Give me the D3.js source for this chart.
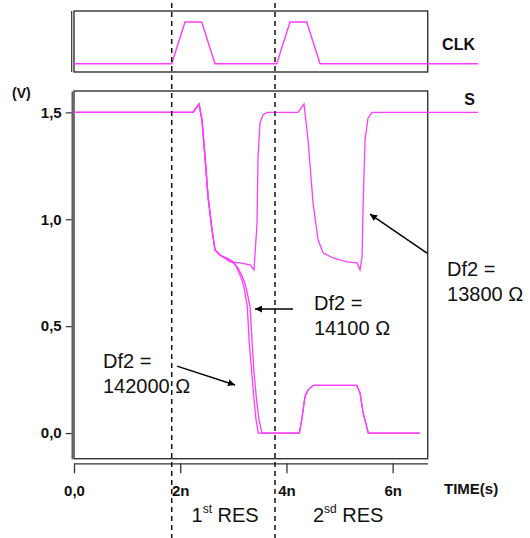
<!DOCTYPE html>
<html>
<head>
<meta charset="utf-8">
<script src="https://cdn.jsdelivr.net/npm/d3@7"></script>
<style>
    body { margin: 0; background: #fff; }
    svg { display: block; }
    .tick text, .lbl { font-family: "Liberation Sans", Arial, sans-serif; font-weight: bold; fill: #111; }
    .note { font-family: "Liberation Sans", Arial, sans-serif; font-size: 20px; fill: #111; }
</style>
</head>
<body>
<script>
// clock trace (ns, level 0/1)
const clkTime = [0, 1.84, 2.09, 2.405, 2.655, 3.817, 4.068, 4.382, 4.633, 7.608]
const clkLevel = [0, 0, 1, 1, 0, 0, 1, 1, 0, 0]

// S node, Df2 = 13800 ohm (recovers to 1.5 V)
const sTimeA = [0, 2.24, 2.354, 2.41, 2.467, 2.524, 2.599, 2.655, 2.75, 2.938, 3.126, 3.315, 3.39, 3.446, 3.465, 3.503, 3.559, 3.635,
    4.218, 4.331, 4.407, 4.501, 4.595, 4.689, 4.878, 5.141, 5.33, 5.386, 5.424, 5.443, 5.48, 5.537, 5.612, 7.608]
const sVoltA = [1.5, 1.5, 1.539, 1.465, 1.292, 1.105, 0.95, 0.857, 0.833, 0.801, 0.796, 0.787, 0.763, 0.983, 1.292, 1.451, 1.488, 1.5,
    1.5, 1.539, 1.371, 1.077, 0.904, 0.843, 0.819, 0.801, 0.796, 0.763, 0.824, 1.058, 1.371, 1.474, 1.5, 1.5]

// S node, Df2 = 14100 ohm
const sTimeB = [0, 2.24, 2.354, 2.41, 2.467, 2.524, 2.599, 2.655, 2.75, 2.938, 3.051, 3.107, 3.164, 3.211, 3.264, 3.296, 3.347, 3.39, 3.428, 3.471,
    4.243, 4.288, 4.35, 4.407, 4.507, 5.324, 5.386, 5.443, 5.542, 6.516]
const sVoltB = [1.5, 1.5, 1.539, 1.465, 1.292, 1.105, 0.95, 0.857, 0.833, 0.81, 0.782, 0.75, 0.717, 0.67, 0.59, 0.436, 0.282, 0.156, 0.062, 0,
    0, 0.062, 0.171, 0.202, 0.223, 0.223, 0.188, 0.095, 0, 0]

// S node, Df2 = 142000 ohm
const sTimeC = [0, 2.24, 2.354, 2.41, 2.467, 2.524, 2.599, 2.655, 2.75, 2.976, 3.088, 3.154, 3.211, 3.258, 3.315, 3.352, 3.39, 3.437, 3.484, 3.54,
    4.243, 4.288, 4.35, 4.407, 4.507, 5.324, 5.386, 5.443, 5.542, 6.516]
const sVoltC = [1.5, 1.5, 1.539, 1.465, 1.292, 1.105, 0.95, 0.857, 0.833, 0.805, 0.773, 0.74, 0.707, 0.661, 0.59, 0.436, 0.282, 0.156, 0.062, 0,
    0, 0.062, 0.171, 0.202, 0.223, 0.223, 0.188, 0.095, 0, 0]

const yTicks = [0, 0.5, 1.0, 1.5]
const yTickLabels = ["0,0", "0,5", "1,0", "1,5"]
const xTicks = [0, 2, 4, 6]
const xTickLabels = ["0,0", "2n", "4n", "6n"]

// reset boundaries (ns)
const resTimes = [1.84, 3.785]

// annotations: text anchor (ns, V), arrow from -> to (ns, V)
const noteLines = [["Df2 =", "13800 \u03A9"], ["Df2 =", "14100 \u03A9"], ["Df2 =", "142000 \u03A9"]]
const noteT = [7.024, 4.519, 0.546]
const noteV = [0.735, 0.575, 0.304]
const arrowFrom = [[6.647, 0.842], [4.124, 0.58], [1.94, 0.313]]
const arrowTo = [[5.574, 1.024], [3.408, 0.58], [3.032, 0.225]]

const W = 530
const H = 538
const magenta = "#ff3cff"
const ink = "#333"

const svg = d3.select("body").append("svg")
    .attr("width", W)
    .attr("height", H)

svg.append("defs").append("marker")
    .attr("id", "arr")
    .attr("viewBox", "0 0 10 10")
    .attr("refX", 10).attr("refY", 5)
    .attr("markerWidth", 7).attr("markerHeight", 7)
    .attr("markerUnits", "userSpaceOnUse")
    .attr("orient", "auto")
    .append("path").attr("d", "M0,0 L10,5 L0,10 z").attr("fill", "#000")

const x = d3.scaleLinear().domain([0, 6.66]).range([74, 427.7])
const y = d3.scaleLinear().domain([-0.12, 1.6]).range([458.7, 91])
const yClk = d3.scaleLinear().domain([0, 1]).range([63.7, 22])

// clock panel box
svg.append("rect")
    .attr("x", x(0)).attr("y", 11)
    .attr("width", x(6.66) - x(0)).attr("height", 61)
    .attr("fill", "none").attr("stroke", ink).attr("stroke-width", 1.4)
svg.append("line")
    .attr("x1", x(0) - 2.3).attr("x2", x(0) - 2.3)
    .attr("y1", 11).attr("y2", 72)
    .attr("stroke", ink).attr("stroke-width", 1.2)

// main panel box
svg.append("rect")
    .attr("x", x(0)).attr("y", y(1.6))
    .attr("width", x(6.66) - x(0)).attr("height", y(-0.12) - y(1.6))
    .attr("fill", "none").attr("stroke", ink).attr("stroke-width", 1.4)

const yAxis = d3.axisLeft(y).tickValues(yTicks)
    .tickFormat((d, i) => yTickLabels[i])
    .tickSize(6).tickSizeOuter(0).tickPadding(4)
const ga = svg.append("g")
    .attr("transform", "translate(" + (x(0) - 2.3) + ",0)")
    .call(yAxis)
ga.selectAll("path, line").attr("stroke", ink).attr("stroke-width", 1.2)
ga.selectAll("text").attr("font-size", 15)

const xAxis = d3.axisBottom(x).tickValues(xTicks)
    .tickFormat((d, i) => xTickLabels[i])
    .tickSize(10).tickSizeOuter(0).tickPadding(12)
const gx = svg.append("g")
    .attr("transform", "translate(0,463.3)")
    .call(xAxis)
gx.selectAll("path, line").attr("stroke", ink).attr("stroke-width", 1.3)
gx.selectAll("text").attr("font-size", 15)

// axis / signal names
svg.append("text").attr("class", "lbl").attr("x", 12).attr("y", 98).attr("font-size", 14).text("(V)")
svg.append("text").attr("class", "lbl").attr("x", 444).attr("y", 494).attr("font-size", 15).text("TIME(s)")
svg.append("text").attr("class", "lbl").attr("x", 475).attr("y", yClk(0) - 14).attr("font-size", 16)
    .attr("text-anchor", "end").text("CLK")
svg.append("text").attr("class", "lbl").attr("x", 475).attr("y", y(1.5) - 7).attr("font-size", 16)
    .attr("text-anchor", "end").text("S")

// traces
const clkLine = d3.line().x(d => x(d[0])).y(d => yClk(d[1]))
svg.append("path")
    .datum(clkTime.map((t, i) => [t, clkLevel[i]]))
    .attr("d", clkLine)
    .attr("fill", "none").attr("stroke", magenta).attr("stroke-width", 1.4)

const sLine = d3.line().x(d => x(d[0])).y(d => y(d[1]))
const series = [[sTimeC, sVoltC], [sTimeB, sVoltB], [sTimeA, sVoltA]]
series.forEach(s => {
    svg.append("path")
        .datum(s[0].map((t, i) => [t, s[1][i]]))
        .attr("d", sLine)
        .attr("fill", "none").attr("stroke", magenta).attr("stroke-width", 1.3)
})

// reset boundaries
svg.selectAll(".res")
    .data(resTimes)
    .enter()
    .append("line")
    .attr("class", "res")
    .attr("x1", d => x(d)).attr("x2", d => x(d))
    .attr("y1", 3).attr("y2", H)
    .attr("stroke", "#111").attr("stroke-width", 1.5)
    .attr("stroke-dasharray", "5,4")

// arrows and notes
arrowFrom.forEach((f, i) => {
    svg.append("line")
        .attr("x1", x(f[0])).attr("y1", y(f[1]))
        .attr("x2", x(arrowTo[i][0])).attr("y2", y(arrowTo[i][1]))
        .attr("stroke", "#000").attr("stroke-width", 1.5)
        .attr("marker-end", "url(#arr)")
})
noteLines.forEach((lines, i) => {
    lines.forEach((s, j) => {
        svg.append("text").attr("class", "note")
            .attr("x", x(noteT[i]))
            .attr("y", y(noteV[i]) + j * 25)
            .text(s)
    })
})

// reset period names
const resNames = [["1", "st"], ["2", "sd"]]
const resLabelT = [2.213, 4.499]
resNames.forEach((n, i) => {
    const t = svg.append("text").attr("class", "note")
        .attr("x", x(resLabelT[i])).attr("y", 522)
    t.append("tspan").text(n[0])
    t.append("tspan").attr("font-size", 12).attr("dy", -9).text(n[1])
    t.append("tspan").attr("dy", 9).text(" RES")
})
</script>
</body>
</html>
